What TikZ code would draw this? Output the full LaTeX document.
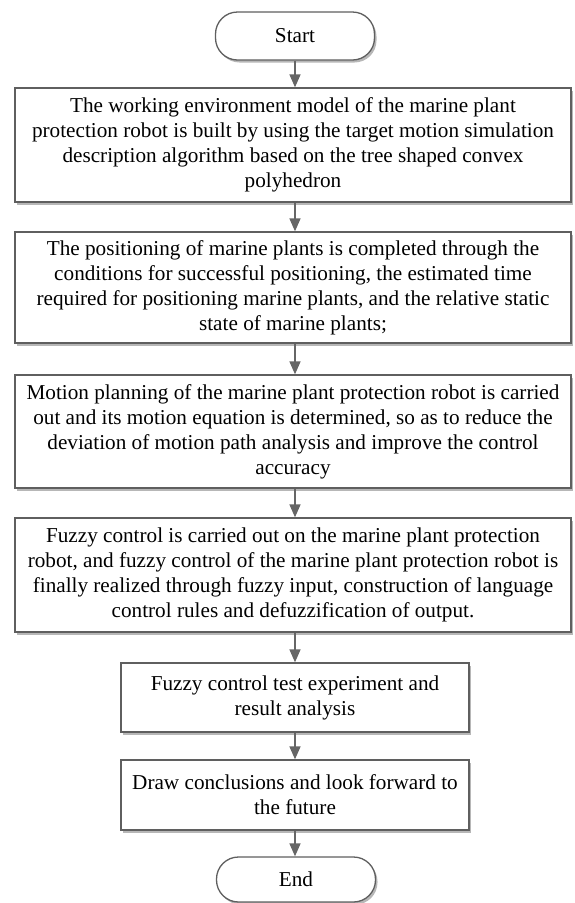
\documentclass[tikz,border=0pt]{standalone}
\usepackage{fontspec}
\setmainfont{Liberation Serif}
\usetikzlibrary{shadows,arrows.meta}
\definecolor{edgegray}{HTML}{5F5F5F}
\definecolor{arrowgray}{HTML}{666666}
\tikzset{
  boxshadow/.style={drop shadow={shadow xshift=2pt,shadow yshift=-2.5pt,fill=black!40,opacity=0.7}},
  procbox/.style={draw=edgegray,line width=1.3pt,fill=white,boxshadow,inner sep=0pt,
    align=center,font=\fontsize{21.2}{25}\selectfont},
  widebox/.style={procbox,minimum width=556pt},
  narrowbox/.style={procbox,minimum width=348pt},
  terminal/.style={draw=edgegray,line width=1.3pt,fill=white,boxshadow,rounded corners=22pt,
    inner sep=0pt,minimum width=159pt,font=\fontsize{21.2}{25}\selectfont},
  flowarrow/.style={draw=arrowgray,line width=1.5pt,-{Triangle[width=11pt,length=13pt]}}
}
\begin{document}
\begin{tikzpicture}[x=1pt,y=-1pt]
\useasboundingbox (0,0) rectangle (574,903);
\node[terminal,minimum height=48pt] (start) at (295,36) {Start};
\node[widebox,minimum height=114pt] (b1) at (293,145) {The working environment model of the marine plant\\protection robot is built by using the target motion simulation\\description algorithm based on the tree shaped convex\\polyhedron};
\node[widebox,minimum height=111pt] (b2) at (293,287.5) {The positioning of marine plants is completed through the\\conditions for successful positioning, the estimated time\\required for positioning marine plants, and the relative static\\state of marine plants;};
\node[widebox,minimum height=113pt] (b3) at (293,431.5) {Motion planning of the marine plant protection robot is carried\\out and its motion equation is determined, so as to reduce the\\deviation of motion path analysis and improve the control\\accuracy};
\node[widebox,minimum height=114pt] (b4) at (293,575) {Fuzzy control is carried out on the marine plant protection\\robot, and fuzzy control of the marine plant protection robot is\\finally realized through fuzzy input, construction of language\\control rules and defuzzification of output.};
\node[narrowbox,minimum height=69pt] (b5) at (295,697.5) {Fuzzy control test experiment and\\result analysis};
\node[narrowbox,minimum height=70pt] (b6) at (295,795) {Draw conclusions and look forward to\\the future};
\node[terminal,minimum height=45pt] (end) at (296,879.5) {End};
\draw[flowarrow] (start.south) -- (start.south |- b1.north);
\draw[flowarrow] (start.south |- b1.south) -- (start.south |- b2.north);
\draw[flowarrow] (start.south |- b2.south) -- (start.south |- b3.north);
\draw[flowarrow] (start.south |- b3.south) -- (start.south |- b4.north);
\draw[flowarrow] (b5.north |- b4.south) -- (b5.north);
\draw[flowarrow] (b5.south) -- (b6.north);
\draw[flowarrow] (b6.south) -- (b6.south |- end.north);
\end{tikzpicture}
\end{document}
